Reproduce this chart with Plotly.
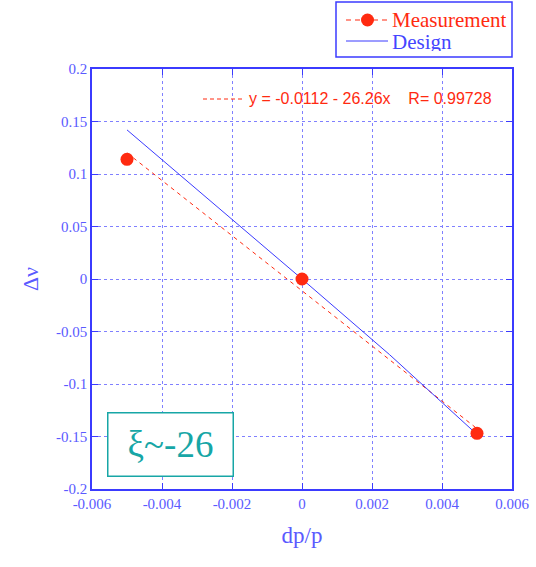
import plotly.graph_objects as go

# ---- data ----
meas_x = [-0.005, 0.0, 0.005]
meas_y = [0.114, 0.0, -0.147]

design_x = [-0.005, -0.0025, 0.0, 0.0025, 0.0049]
design_y = [0.142, 0.071, 0.0, -0.072, -0.145]

fit_intercept = -0.0112
fit_slope = -26.26
fit_r = 0.99728
fit_x = [-0.005, 0.005]
fit_y = [fit_intercept + fit_slope * v for v in fit_x]

x_ticks = [-0.006, -0.004, -0.002, 0, 0.002, 0.004, 0.006]
x_ticktext = ["-0.006", "-0.004", "-0.002", "0", "0.002", "0.004", "0.006"]
y_ticks = [-0.2, -0.15, -0.1, -0.05, 0, 0.05, 0.1, 0.15, 0.2]
y_ticktext = ["-0.2", "-0.15", "-0.1", "-0.05", "0", "0.05", "0.1", "0.15", "0.2"]

RED = "#ff2a10"
BLUE = "#3b3bff"
TICKBLUE = "#5a5aff"
GRID = "#8080ff"
TEAL = "#17a6a6"
SERIF = "Liberation Serif, Times New Roman, serif"

L, T, W, H = 92, 69, 420, 420


def px(x):
    return (x - L) / W


def py(y):
    return (T + H - y) / H


fig = go.Figure()

# fit line (dashed red)
fig.add_trace(go.Scatter(x=fit_x, y=fit_y, mode="lines",
                         line=dict(color=RED, width=1, dash="4px,4px"),
                         showlegend=False, hoverinfo="skip"))
# design
fig.add_trace(go.Scatter(x=design_x, y=design_y, mode="lines",
                         line=dict(color=BLUE, width=1), name="Design",
                         showlegend=False))
# measurement markers
fig.add_trace(go.Scatter(x=meas_x, y=meas_y, mode="markers",
                         marker=dict(color=RED, size=13), name="Measurement",
                         showlegend=False))

axis_common = dict(
    showline=True, linecolor=BLUE, linewidth=1.5, mirror="allticks",
    ticks="inside", ticklen=6, tickcolor=BLUE, tickwidth=1,
    showgrid=True, gridcolor=GRID, gridwidth=1, griddash="dot",
    zeroline=False,
    tickfont=dict(family=SERIF, size=15, color=TICKBLUE),
)

fig.update_xaxes(range=[-0.006, 0.006], tickvals=x_ticks, ticktext=x_ticktext,
                 title=dict(text="dp/p", font=dict(family=SERIF, size=23, color=TICKBLUE), standoff=16),
                 **axis_common)
fig.update_yaxes(range=[-0.2, 0.2], tickvals=y_ticks, ticktext=y_ticktext,
                 title=dict(text="Δν", font=dict(family=SERIF, size=22, color=TICKBLUE), standoff=11),
                 **axis_common)

shapes = [
    # fit label dashed sample
    dict(type="line", xref="paper", yref="paper",
         x0=px(203), x1=px(245), y0=py(99), y1=py(99),
         line=dict(color=RED, width=1, dash="4px,3px")),
    # legend box
    dict(type="rect", xref="paper", yref="paper",
         x0=px(336), x1=px(512), y0=py(57), y1=py(2),
         line=dict(color=BLUE, width=1.5), fillcolor="white"),
    # legend: measurement sample
    dict(type="line", xref="paper", yref="paper",
         x0=px(346), x1=px(388), y0=py(20), y1=py(20),
         line=dict(color=RED, width=1.2, dash="5px,4px")),
    dict(type="circle", xref="paper", yref="paper",
         x0=px(361), x1=px(374), y0=py(26.5), y1=py(13.5),
         line=dict(color=RED, width=0), fillcolor=RED),
    # legend: design sample
    dict(type="line", xref="paper", yref="paper",
         x0=px(346), x1=px(388), y0=py(41), y1=py(41),
         line=dict(color=BLUE, width=1)),
]

annotations = [
    dict(xref="paper", yref="paper", x=px(247), y=py(99),
         xanchor="left", yanchor="middle", showarrow=False,
         text=f"y = {fit_intercept} - {abs(fit_slope)}x    R= {fit_r}",
         font=dict(family="Liberation Sans, Arial, sans-serif", size=16, color=RED)),
    dict(xref="paper", yref="paper", x=px(170), y=py(444.5),
         xanchor="center", yanchor="middle", showarrow=False,
         text="ξ~-26", width=122, height=60, borderpad=1,
         bordercolor=TEAL, borderwidth=1.5, bgcolor="white",
         font=dict(family=SERIF, size=37, color=TEAL)),
    dict(xref="paper", yref="paper", x=px(390), y=py(20),
         xanchor="left", yanchor="middle", showarrow=False, height=19,
         text="Measurement", font=dict(family=SERIF, size=21, color=RED)),
    dict(xref="paper", yref="paper", x=px(390), y=py(41),
         xanchor="left", yanchor="middle", showarrow=False, height=19,
         text="Design", font=dict(family=SERIF, size=21, color="#4545ff")),
]

fig.update_layout(
    width=536, height=567,
    margin=dict(l=L, r=536 - L - W, t=T, b=567 - T - H, autoexpand=False),
    plot_bgcolor="white", paper_bgcolor="white",
    showlegend=False,
    shapes=shapes,
    annotations=annotations,
)

fig.write_html("out.html")
